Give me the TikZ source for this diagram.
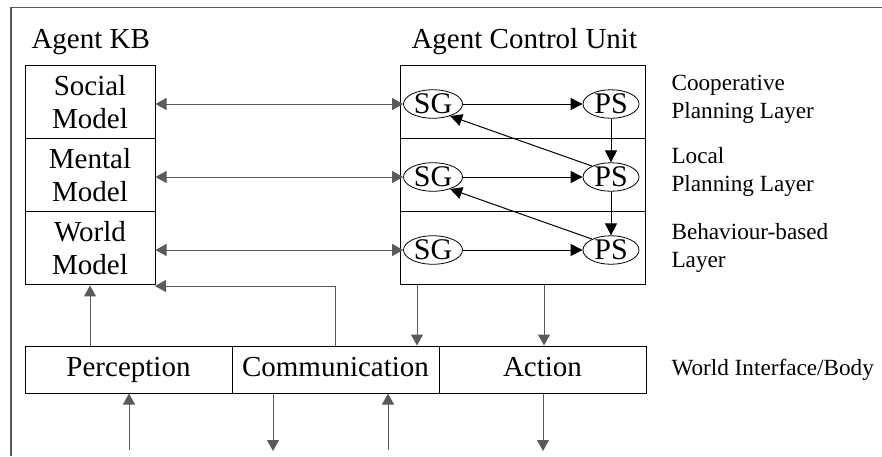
\documentclass[tikz,border=0pt]{standalone}
\usepackage{fontspec}
\setmainfont{Liberation Serif}
\usetikzlibrary{arrows.meta,shapes.geometric}
\definecolor{lgray}{HTML}{5A5A5A}
\begin{document}
\begin{tikzpicture}[x=1pt,y=-1pt,
  big/.style={font=\fontsize{29}{33}\selectfont},
  small/.style={font=\fontsize{23.2}{28}\selectfont},
  kbbox/.style={draw, line width=1pt, minimum width=130pt, minimum height=73.3pt, inner sep=0pt, align=center, big},
  layerbox/.style={draw, line width=1pt, minimum width=245pt, minimum height=73.3pt, inner sep=0pt},
  iobox/.style={draw, line width=1pt, minimum width=207pt, minimum height=47pt, inner sep=0pt, text height=19pt, text depth=6pt, big},
  oval/.style={draw, ellipse, line width=0.8pt, minimum width=59pt, minimum height=28pt, inner sep=0pt, font=\fontsize{30}{30}\selectfont},
  lab/.style={anchor=west, align=left, small},
  garrow/.style={draw=lgray, line width=1pt, -{Triangle[length=11pt,width=12pt]}, lgray},
  dblarrow/.style={draw=lgray, line width=1pt, {Triangle[length=11pt,width=12pt]}-{Triangle[length=11pt,width=12pt]}, lgray},
  barrow/.style={draw=black, line width=1pt, -{Triangle[length=12pt,width=12pt]}},
]
\useasboundingbox (0,0) rectangle (882,456);
% frame (only top and left visible)
\draw[lgray, line width=1.5pt] (882,7.5) -- (11,7.5) -- (11,456);

% titles
\node[big, anchor=west] (kbtitle) at (28,42) {Agent KB};
\node[big, anchor=west] (acutitle) at (408,42) {Agent Control Unit};

% KB boxes
\node[kbbox] (social) at (90,101.7) {Social\\Model};
\node[kbbox] (mental) at (90,175) {Mental\\Model};
\node[kbbox] (world)  at (90,248.3) {World\\Model};

% control unit layers
\node[layerbox] (l1) at (522.5,101.7) {};
\node[layerbox] (l2) at (522.5,175) {};
\node[layerbox] (l3) at (522.5,248.3) {};

% SG / PS
\node[oval] (sg1) at (433,104) {SG};
\node[oval] (sg2) at (433,177) {SG};
\node[oval] (sg3) at (433,250) {SG};
\node[oval, minimum width=56pt] (ps1) at (611,104) {PS};
\node[oval, minimum width=56pt] (ps2) at (611,177) {PS};
\node[oval, minimum width=56pt] (ps3) at (611,250) {PS};

% layer labels
\node[lab] (coop) at (668,99) {Cooperative\\Planning Layer};
\node[lab] (local) at (668,172) {Local\\Planning Layer};
\node[lab] (beh) at (668,248) {Behaviour-based\\Layer};

% IO boxes
\node[iobox] (perc) at (128.5,369.5) {Perception};
\node[iobox] (comm) at (335.5,369.5) {Communication};
\node[iobox] (act)  at (542.5,369.5) {Action};
\node[lab] (wib) at (668,370) {World Interface/Body};

% KB <-> SG arrows
\draw[dblarrow] (sg1.west -| social.east) -- (sg1.west);
\draw[dblarrow] (sg2.west -| mental.east) -- (sg2.west);
\draw[dblarrow] (sg3.west -| world.east) -- (sg3.west);

% inner control arrows
\draw[barrow] (sg1) -- (ps1);
\draw[barrow] (sg2) -- (ps2);
\draw[barrow] (sg3) -- (ps3);
\draw[barrow] (ps1) -- (ps2);
\draw[barrow] (ps2) -- (ps3);
\draw[barrow] (ps2.150) -- (sg1.-35);
\draw[barrow] (ps3.150) -- (sg2.-35);

% perception / communication to world model
\draw[garrow] (perc.north -| 90,0) -- (world.south -| 90,0);
\coordinate (wmcorner) at (155,286);
\draw[garrow] (comm.north -| 335,0) -- (335,286) -- (wmcorner);

% control unit to comm/action
\draw[garrow] (l3.south -| 417,0) -- (comm.north -| 417,0);
\draw[garrow] (l3.south -| 544,0) -- (act.north -| 544,0);

% external
\coordinate (pin) at (129,450);
\coordinate (cout) at (273,451);
\coordinate (cin) at (388,450);
\coordinate (aout) at (543,451);
\draw[garrow] (pin) -- (perc.south -| pin);
\draw[garrow] (comm.south -| cout) -- (cout);
\draw[garrow] (cin) -- (comm.south -| cin);
\draw[garrow] (act.south -| aout) -- (aout);
\end{tikzpicture}
\end{document}
